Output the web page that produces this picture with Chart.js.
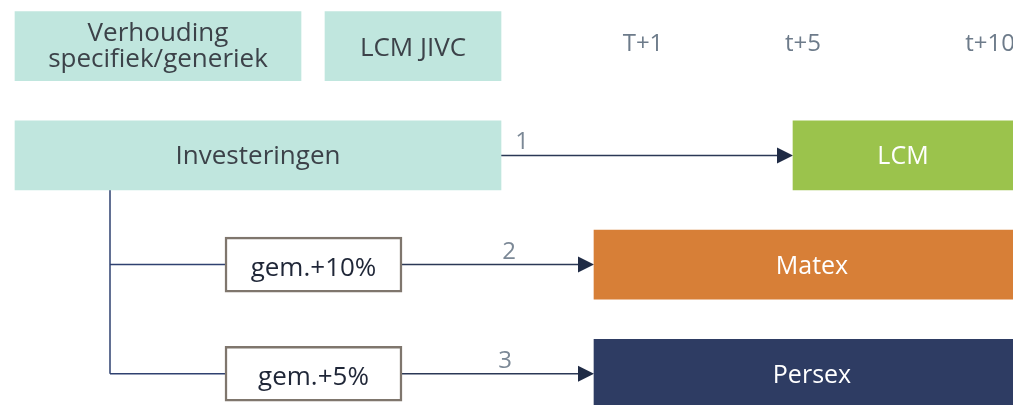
<!DOCTYPE html>
<html>
<head>
<meta charset="utf-8">
<script src="https://cdn.jsdelivr.net/npm/chart.js@4"></script>
<style>
  html, body { margin: 0; padding: 0; background: #fff; }
  #wrap { width: 1013px; height: 405px; position: relative; }
</style>
</head>
<body>
<div id="wrap"><canvas id="diagram"></canvas></div>
<script>
// Diagram content. Row 0 = header, rows 1..3 = the three routes.
const headerLabels = [["Verhouding", "specifiek/generiek"], ["LCM JIVC"]]
const headerSpans = [[15, 301], [325, 501]]
const periodLabels = ["T+1", "t+5", "t+10"]
const periodAt = [643, 803, 990]
const sourceLabels = ["Investeringen", "gem.+10%", "gem.+5%"]
const sourceSpans = [[15, 501], [225, 402], [225, 402]]
const targetLabels = ["LCM", "Matex", "Persex"]
const targetSpans = [[793, 1013], [594, 1030], [594, 1030]]
const stepLabels = ["1", "2", "3"]
const stepAt = [522, 509, 505]
const trunkAt = 110

const TEAL = "#c0e6de"
const TARGET_COLORS = ["#9bc34c", "#d77f37", "#2e3c63"]
const FONT = "'Open Sans', sans-serif"

// Draw connectors under the boxes, texts on top
const diagramPlugin = {
  id: "diagram",
  beforeDatasetsDraw(chart) {
    const { ctx } = chart
    const { x } = chart.scales
    const inv = chart.getDatasetMeta(1).data[0]
    const gems = chart.getDatasetMeta(2).data
    const targets = chart.getDatasetMeta(3).data
    const tx = x.getPixelForValue(trunkAt)

    ctx.save()
    // trunk + branches
    ctx.strokeStyle = "#2f4170"
    ctx.lineWidth = 1.5
    ctx.beginPath()
    ctx.moveTo(tx, inv.y + inv.height / 2)
    ctx.lineTo(tx, gems[1].y)
    gems.forEach((g) => {
      ctx.moveTo(tx, g.y)
      ctx.lineTo(g.base, g.y)
    })
    ctx.stroke()

    // arrows
    const starts = [inv, gems[0], gems[1]]
    starts.forEach((s, i) => {
      const t = targets[i]
      const ly = t.y
      ctx.strokeStyle = "#2b3856"
      ctx.lineWidth = 1.5
      ctx.beginPath()
      ctx.moveTo(s.x, ly)
      ctx.lineTo(t.base - 10, ly)
      ctx.stroke()
      ctx.fillStyle = "#1f2b45"
      ctx.beginPath()
      ctx.moveTo(t.base, ly)
      ctx.lineTo(t.base - 16, ly - 8)
      ctx.lineTo(t.base - 16, ly + 8)
      ctx.closePath()
      ctx.fill()

      ctx.fillStyle = "#7b8896"
      ctx.font = `24px ${FONT}`
      ctx.textAlign = "center"
      ctx.textBaseline = "alphabetic"
      ctx.fillText(stepLabels[i], x.getPixelForValue(stepAt[i]), ly - 6)
    })
    ctx.restore()
  },
  afterDatasetsDraw(chart) {
    const { ctx } = chart
    const { x, y } = chart.scales
    ctx.save()
    ctx.textAlign = "center"
    ctx.textBaseline = "alphabetic"

    // header boxes
    chart.getDatasetMeta(0).data.forEach((bar, i) => {
      const cx = (bar.base + bar.x) / 2
      const lines = headerLabels[i]
      ctx.fillStyle = "#3c4249"
      ctx.font = `26px ${FONT}`
      if (lines.length === 2) {
        ctx.fillText(lines[0], cx, bar.y - 5)
        ctx.fillText(lines[1], cx, bar.y + 21)
      } else {
        ctx.fillText(lines[0], cx, bar.y + 10)
      }
    })

    // period labels
    ctx.fillStyle = "#6d7b8a"
    ctx.font = `24px ${FONT}`
    periodLabels.forEach((lbl, i) => {
      ctx.fillText(lbl, x.getPixelForValue(periodAt[i]), y.getPixelForValue(0) + 5)
    })

    // Investeringen
    const inv = chart.getDatasetMeta(1).data[0]
    ctx.fillStyle = "#3c4249"
    ctx.font = `26px ${FONT}`
    ctx.fillText(sourceLabels[0], (inv.base + inv.x) / 2, inv.y + 9)

    // gem boxes
    ctx.fillStyle = "#1f2637"
    chart.getDatasetMeta(2).data.forEach((bar, i) => {
      ctx.fillText(sourceLabels[i + 1], (bar.base + bar.x) / 2, bar.y + 11)
    })

    // targets
    ctx.fillStyle = "#ffffff"
    ctx.font = `25px ${FONT}`
    chart.getDatasetMeta(3).data.forEach((bar, i) => {
      ctx.fillText(targetLabels[i], (bar.base + bar.x) / 2, bar.y + 9)
    })
    ctx.restore()
  },
}

new Chart(document.getElementById("diagram"), {
  type: "bar",
  data: {
    datasets: [
      {
        label: "kop",
        data: headerSpans.map((s) => ({ x: s, y: 0 })),
        backgroundColor: TEAL,
        barThickness: 69,
      },
      {
        label: "bron",
        data: [{ x: sourceSpans[0], y: 1 }],
        backgroundColor: TEAL,
        barThickness: 69,
      },
      {
        label: "gem",
        data: sourceSpans.slice(1).map((s, i) => ({ x: s, y: i + 2 })),
        backgroundColor: "#ffffff",
        borderColor: "#7f766d",
        borderWidth: 2.5,
        borderSkipped: false,
        barThickness: 55,
      },
      {
        label: "doel",
        data: targetSpans.map((s, i) => ({ x: s, y: i + 1 })),
        backgroundColor: TARGET_COLORS,
        barThickness: 69,
      },
    ],
  },
  options: {
    indexAxis: "y",
    responsive: true,
    maintainAspectRatio: false,
    animation: false,
    events: [],
    layout: { padding: 0 },
    datasets: { bar: { grouped: false } },
    plugins: {
      legend: { display: false },
      tooltip: { enabled: false },
    },
    scales: {
      x: { type: "linear", min: 0, max: 1013, display: false },
      y: { type: "linear", min: -0.423, max: 3.286, reverse: true, offset: false, display: false },
    },
  },
  plugins: [diagramPlugin],
})
</script>
</body>
</html>
